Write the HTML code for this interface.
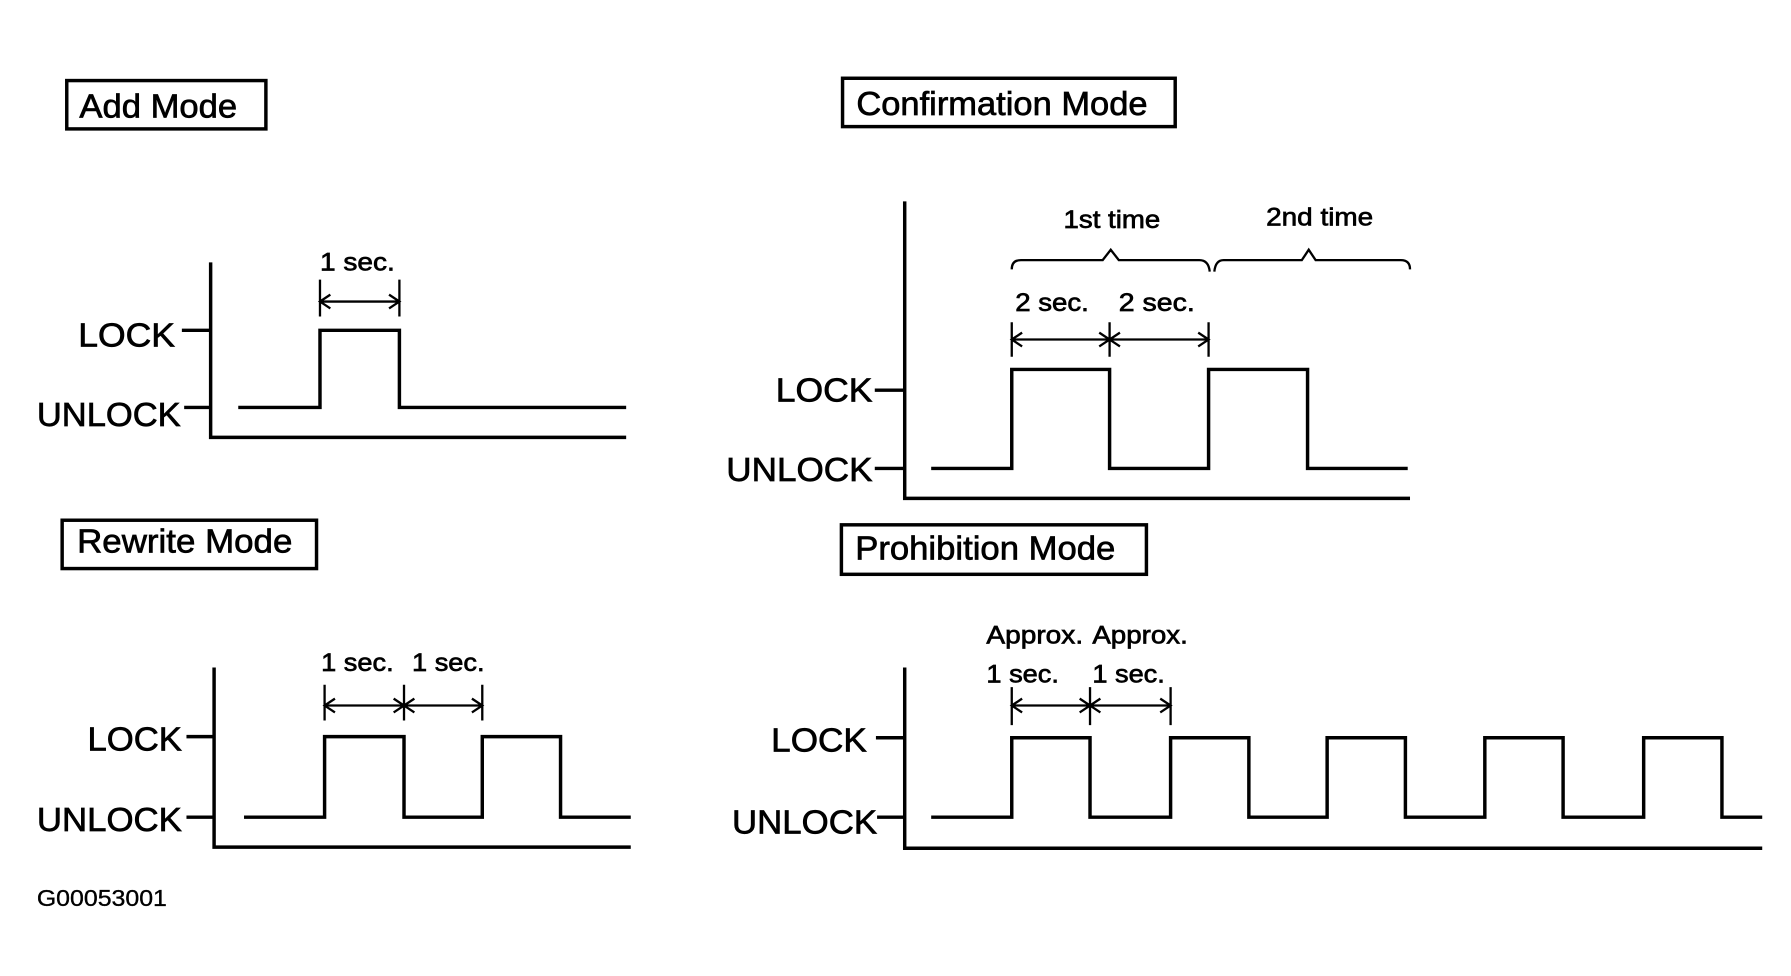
<!DOCTYPE html>
<html><head><meta charset="utf-8"><style>
html,body{margin:0;padding:0;background:#fff;}
svg{display:block;}
text{font-family:"Liberation Sans",Arial,sans-serif;fill:#000;stroke:#000;stroke-width:0.6;}
</style></head><body>
<svg width="1791" height="976" viewBox="0 0 1556 848" preserveAspectRatio="none" xmlns="http://www.w3.org/2000/svg">
<g fill="none" stroke="#000" stroke-width="3">
<rect x="58" y="70" width="173" height="42"/>
<path d="M183 228 V380 H544"/>
<path d="M158 287 H183 M160 354 H183"/>
<path d="M207 354 H278 V287 H347 V354 H544"/>
<path stroke-width="2" d="M278 243 V275 M347 243 V275 M278 262 H347 M287 256 L278 262 L287 268 M338 256 L347 262 L338 268"/>
<rect x="732" y="68" width="289" height="42"/>
<path d="M786 175 V433 H1225"/>
<path d="M760 339 H786 M760 407 H786"/>
<path d="M809 407 H879 V321 H964 V407 H1050 V321 H1136 V407 H1223"/>
<path stroke-width="2" d="M879 280 V310 M964 280 V310 M1050 280 V310 M879 295 H1050 M888 289 L879 295 L888 301 M955 289 L964 295 L955 301 M973 289 L964 295 L973 301 M1041 289 L1050 295 L1041 301"/>
<path stroke-width="2" d="M879 234 Q879 226 887 226 H958 L965 217 L972 226 H1042 Q1050 226 1051 236 M1055 236 Q1056 226 1063 226 H1131 L1137 217 L1143 226 H1217 Q1225 226 1225 234"/>
<rect x="54" y="452" width="221" height="42"/>
<path d="M186 580 V736 H548"/>
<path d="M162 640 H186 M162 710 H186"/>
<path d="M212 710 H282 V640 H351 V710 H419 V640 H487 V710 H548"/>
<path stroke-width="2" d="M282 595 V626 M351 595 V626 M419 595 V626 M282 613 H419 M291 607 L282 613 L291 619 M342 607 L351 613 L342 619 M360 607 L351 613 L360 619 M410 607 L419 613 L410 619"/>
<rect x="731" y="456" width="265" height="43"/>
<path d="M786 580 V737 H1531"/>
<path d="M761 641 H786 M762 710 H786"/>
<path d="M809 710 H879 V641 H947 V710 H1017 V641 H1085 V710 H1153 V641 H1221 V710 H1290 V641 H1358 V710 H1428 V641 H1496 V710 H1531"/>
<path stroke-width="2" d="M879 597 V630 M947 597 V630 M1017 597 V630 M879 613 H1017 M888 607 L879 613 L888 619 M938 607 L947 613 L938 619 M956 607 L947 613 L956 619 M1008 607 L1017 613 L1008 619"/>
</g>
<g font-size="29">
<text x="69" y="102" textLength="137" lengthAdjust="spacingAndGlyphs">Add Mode</text>
<text x="744" y="100" textLength="253" lengthAdjust="spacingAndGlyphs">Confirmation Mode</text>
<text x="67" y="480" textLength="187" lengthAdjust="spacingAndGlyphs">Rewrite Mode</text>
<text x="743" y="486" textLength="226" lengthAdjust="spacingAndGlyphs">Prohibition Mode</text>
</g>
<g font-size="29">
<text x="68" y="301" textLength="84" lengthAdjust="spacingAndGlyphs">LOCK</text>
<text x="32" y="370" textLength="125" lengthAdjust="spacingAndGlyphs">UNLOCK</text>
<text x="674" y="349" textLength="84" lengthAdjust="spacingAndGlyphs">LOCK</text>
<text x="631" y="418" textLength="127" lengthAdjust="spacingAndGlyphs">UNLOCK</text>
<text x="76" y="652" textLength="82" lengthAdjust="spacingAndGlyphs">LOCK</text>
<text x="32" y="722" textLength="126" lengthAdjust="spacingAndGlyphs">UNLOCK</text>
<text x="670" y="653" textLength="83" lengthAdjust="spacingAndGlyphs">LOCK</text>
<text x="636" y="724" textLength="126" lengthAdjust="spacingAndGlyphs">UNLOCK</text>
</g>
<g font-size="22">
<text x="278" y="235" textLength="65" lengthAdjust="spacingAndGlyphs">1 sec.</text>
<text x="924" y="198" textLength="84" lengthAdjust="spacingAndGlyphs">1st time</text>
<text x="1100" y="196" textLength="93" lengthAdjust="spacingAndGlyphs">2nd time</text>
<text x="882" y="270" textLength="64" lengthAdjust="spacingAndGlyphs">2 sec.</text>
<text x="972" y="270" textLength="66" lengthAdjust="spacingAndGlyphs">2 sec.</text>
<text x="279" y="583" textLength="63" lengthAdjust="spacingAndGlyphs">1 sec.</text>
<text x="358" y="583" textLength="63" lengthAdjust="spacingAndGlyphs">1 sec.</text>
<text x="857" y="559" textLength="84" lengthAdjust="spacingAndGlyphs">Approx.</text>
<text x="949" y="559" textLength="83" lengthAdjust="spacingAndGlyphs">Approx.</text>
<text x="857" y="593" textLength="63" lengthAdjust="spacingAndGlyphs">1 sec.</text>
<text x="949" y="593" textLength="63" lengthAdjust="spacingAndGlyphs">1 sec.</text>
</g>
<text x="32" y="787" font-size="20" style="stroke-width:0.3" textLength="113" lengthAdjust="spacingAndGlyphs">G00053001</text>
</svg>
</body></html>
